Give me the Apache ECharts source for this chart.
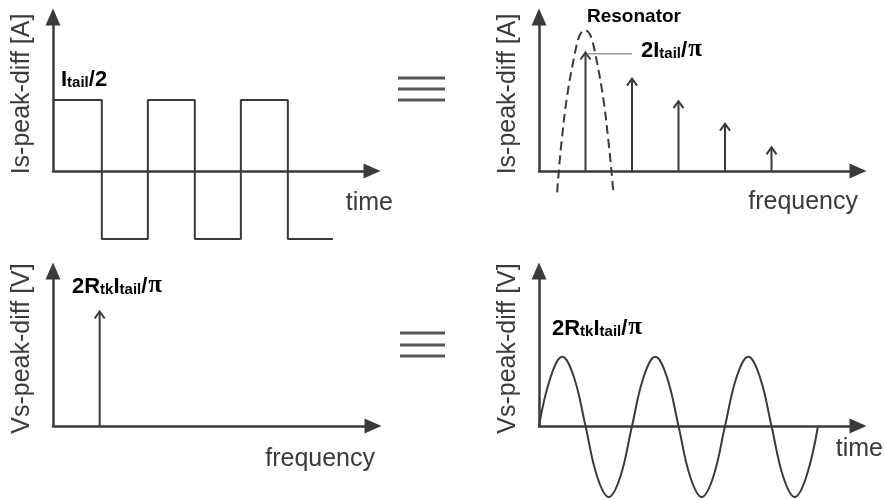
<!DOCTYPE html>
<html><head><meta charset="utf-8">
<script src="https://cdn.jsdelivr.net/npm/echarts@6/dist/echarts.min.js"></script>
<style>html,body{margin:0;padding:0;background:#fff}#c{width:885px;height:500px}</style>
</head><body><div id="c"></div>
<script>
// ---- Panel 1: square-wave tail current vs time ----
const squareTime  = [0, 1.05, 2.04, 3.05, 4.04, 5.05, 6.02];
const squareLevel = [0.99, -0.95, 0.99, -0.95, 0.99, -0.95, -0.95];
// ---- Panel 2: harmonic spectrum and resonator ----
const harmonicFreq = [1, 2, 3, 4, 5];
const harmonicAmp  = [1.0, 0.78, 0.59, 0.40, 0.20];
const resonatorFreq = [0.39, 0.47, 0.60, 0.78, 0.88, 0.99, 1.10, 1.20, 1.38, 1.51, 1.60];
const resonatorAmp  = [-0.18, 0.19, 0.62, 1.01, 1.15, 1.19, 1.15, 1.01, 0.62, 0.19, -0.18];
const leaderFreq = [1.03, 2.0];
const leaderAmp  = [0.99, 0.99];
// ---- Panel 3: voltage spectrum ----
const voltFreq = [1];
const voltAmp  = [0.96];
// ---- Panel 4: sine voltage vs time ----
const sineTime  = [0, 0.25, 0.5, 0.75, 1, 1.25, 1.5, 1.75, 2, 2.25, 2.5, 2.75, 3, 3.25, 3.5, 3.75, 4, 4.25, 4.5, 4.75, 5, 5.25, 5.5, 5.75, 6];
const sineValue = [0, 0.68, 0.96, 0.68, 0, -0.70, -0.985, -0.70, 0, 0.68, 0.96, 0.68, 0, -0.70, -0.985, -0.70, 0, 0.68, 0.96, 0.68, 0, -0.70, -0.985, -0.70, 0];
// axis extents
const xMax = [6.86, 6.86, 6.86, 6.86];
const yMax = [2.15, 1.3, 1.3, 2.15];
const yTitles = ['Is-peak-diff [A]', 'Is-peak-diff [A]', 'Vs-peak-diff [V]', 'Vs-peak-diff [V]'];
const xTitles = ['time', 'frequency', 'frequency', 'time'];

const INK = '#3a3a3a';
const SANS = "'Liberation Sans', Arial, sans-serif";
const zip = (a, b) => a.map((v, i) => [v, b[i]]);

const grids = [
  {left: 53, top: 17, width: 319, height: 154},
  {left: 539, top: 17, width: 319, height: 154},
  {left: 53, top: 271, width: 320, height: 155},
  {left: 539, top: 271, width: 319, height: 155}
];
const xNameGap = [21, 0, 2, 25];
const xNamePad = [[20,0,0,0], [19,0,0,0], [21,0,0,0], [11,0,0,0]];

const xAxes = grids.map((g, i) => ({
  type: 'value', gridIndex: i, min: 0, max: xMax[i],
  axisLine: {show: true, onZero: false, lineStyle: {color: INK, width: 2.5}, symbol: ['none', 'triangle'], symbolSize: [15, 17]},
  axisTick: {show: false}, axisLabel: {show: false}, splitLine: {show: false},
  name: xTitles[i], nameLocation: 'end', nameGap: xNameGap[i],
  nameTextStyle: {fontFamily: SANS, fontSize: 25, color: INK, align: 'right', verticalAlign: 'top', padding: xNamePad[i]}
}));
const yAxes = grids.map((g, i) => ({
  type: 'value', gridIndex: i, min: 0, max: yMax[i],
  axisLine: {show: true, onZero: false, lineStyle: {color: INK, width: 2.5}, symbol: ['none', 'triangle'], symbolSize: [15, 17]},
  axisTick: {show: false}, axisLabel: {show: false}, splitLine: {show: false},
  name: yTitles[i], nameLocation: 'middle', nameRotate: 90, nameGap: 18,
  nameTextStyle: {fontFamily: SANS, fontSize: 25, color: INK}
}));

function stemItem(params, api) {
  const base = api.coord([api.value(0), 0]);
  const top = api.coord([api.value(0), api.value(1)]);
  return {type: 'group', children: [
    {type: 'line', shape: {x1: base[0], y1: base[1], x2: top[0], y2: top[1] + 1}, style: {stroke: INK, lineWidth: 2}},
    {type: 'polyline', shape: {points: [[top[0] - 5, top[1] + 7], [top[0], top[1]], [top[0] + 5, top[1] + 7]]}, style: {stroke: INK, lineWidth: 2, fill: null}}
  ]};
}

const rich = {
  b: {fontFamily: SANS, fontWeight: 'bold', fontSize: 22, lineHeight: 22, color: INK, verticalAlign: 'bottom'},
  s: {fontFamily: SANS, fontWeight: 'bold', fontSize: 15, lineHeight: 15, color: INK, verticalAlign: 'bottom', padding: [0, 0, 1, 0]},
  p: {fontFamily: "'Liberation Serif', 'Times New Roman', serif", fontWeight: 'bold', fontSize: 25, lineHeight: 24, color: INK, verticalAlign: 'bottom', padding: [0, 0, 0, 1]},
  r: {fontFamily: SANS, fontWeight: 'bold', fontSize: 19, color: INK}
};
const label = (x, y, text) => ({type: 'text', x: x, y: y, style: {text: text, rich: rich, verticalAlign: 'middle', align: 'left'}});
const bar = (x1, x2, y) => ({type: 'line', shape: {x1: x1, y1: y, x2: x2, y2: y}, style: {stroke: '#555', lineWidth: 3}});

const option = {
  backgroundColor: '#fff',
  animation: false,
  grid: grids.map(g => Object.assign({outerBoundsMode: 'none', containLabel: false}, g)),
  xAxis: xAxes,
  yAxis: yAxes,
  series: [
    {type: 'line', xAxisIndex: 0, yAxisIndex: 0, step: 'end', data: zip(squareTime, squareLevel), showSymbol: false, symbol: 'none', clip: false,
      lineStyle: {color: INK, width: 2}},
    {type: 'line', xAxisIndex: 1, yAxisIndex: 1, data: zip(resonatorFreq, resonatorAmp), smooth: 0.35, symbol: 'none', clip: false,
      lineStyle: {color: INK, width: 2, type: [9, 5]}},
    {type: 'line', xAxisIndex: 1, yAxisIndex: 1, data: zip(leaderFreq, leaderAmp), symbol: 'none',
      lineStyle: {color: '#9a9a9a', width: 1.5}},
    {type: 'custom', xAxisIndex: 1, yAxisIndex: 1, data: zip(harmonicFreq, harmonicAmp), renderItem: stemItem, encode: {x: 0, y: 1}},
    {type: 'custom', xAxisIndex: 2, yAxisIndex: 2, data: zip(voltFreq, voltAmp), renderItem: stemItem, encode: {x: 0, y: 1}},
    {type: 'line', xAxisIndex: 3, yAxisIndex: 3, data: zip(sineTime, sineValue), smooth: 0.4, symbol: 'none', clip: false,
      lineStyle: {color: INK, width: 2}}
  ],
  graphic: [
    bar(398, 445, 78), bar(398, 445, 89), bar(398, 445, 100),
    bar(400, 445, 333), bar(400, 445, 345), bar(400, 445, 356),
    label(61, 80, '{b|I}{s|tail}{b|/2}'),
    label(587, 17, '{r|Resonator}'),
    label(641, 50, '{b|2I}{s|tail}{b|/}{p|π}'),
    label(72, 286, '{b|2R}{s|tk}{b|I}{s|tail}{b|/}{p|π}'),
    label(552, 328, '{b|2R}{s|tk}{b|I}{s|tail}{b|/}{p|π}')
  ]
};
const chart = echarts.init(document.getElementById('c'), null, {renderer: 'canvas'});
chart.setOption(option);
</script>
</body></html>
